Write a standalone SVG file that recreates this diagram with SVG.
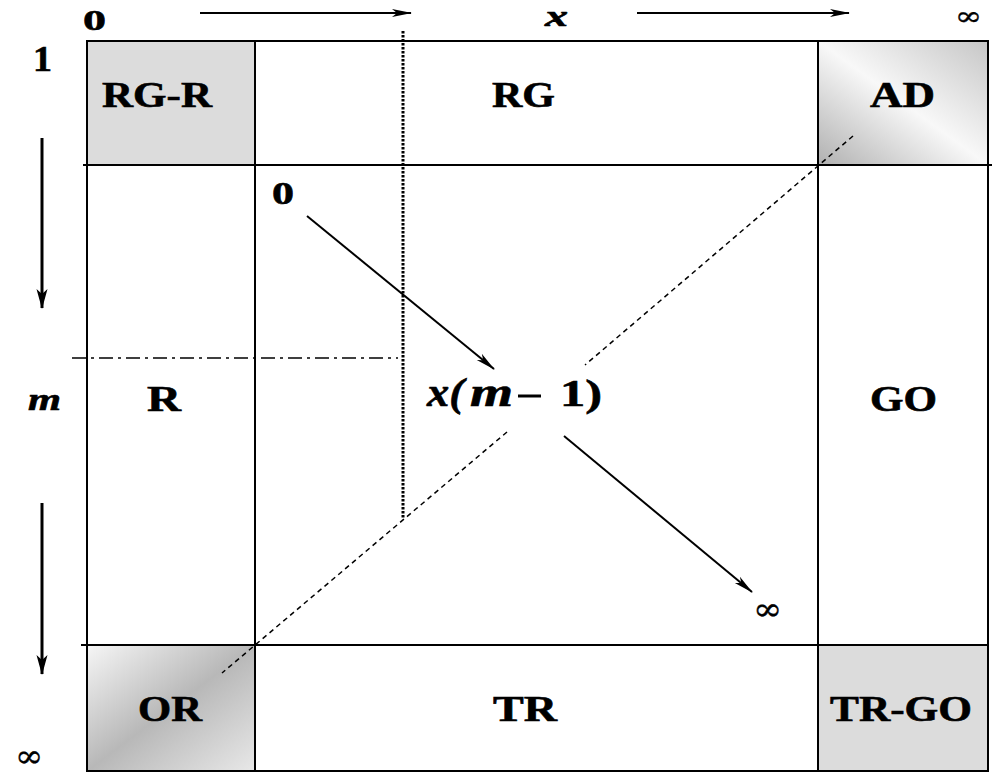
<svg xmlns="http://www.w3.org/2000/svg" width="1000" height="779" viewBox="0 0 1000 779">
<style>
.lbl{font-family:"Liberation Serif","Times New Roman",serif;font-weight:bold;font-size:35px;fill:#000;stroke:#000;stroke-width:0.6}
.bi{font-family:"Liberation Serif","Times New Roman",serif;font-weight:bold;font-style:italic;fill:#000;stroke:#000;stroke-width:0.6}
.inf{font-family:"DejaVu Serif","Liberation Serif",serif;font-size:32px;fill:#000;stroke:#000;stroke-width:0.4}
.grid{stroke:#000;stroke-width:2;fill:none}
.arr{stroke:#000;stroke-width:2;fill:none;marker-end:url(#ah)}
.arrv{stroke:#000;stroke-width:3;fill:none;marker-end:url(#ahv)}
</style>
<defs>
<marker id="ah" viewBox="0 0 20 10" refX="19" refY="5" markerWidth="20" markerHeight="10" markerUnits="userSpaceOnUse" orient="auto">
<path d="M0,1 L20,5 L0,9 L5,5 Z" fill="#000"/>
</marker>
<marker id="ahv" viewBox="0 0 20 12" refX="19" refY="6" markerWidth="20" markerHeight="12" markerUnits="userSpaceOnUse" orient="auto">
<path d="M0,0.5 L20,6 L0,11.5 L5,6 Z" fill="#000"/>
</marker>
<linearGradient id="gAD" x1="0" y1="1" x2="1" y2="0">
<stop offset="0" stop-color="#b0b0b0"/>
<stop offset="0.5" stop-color="#f8f8f8"/>
<stop offset="1" stop-color="#c6c6c6"/>
</linearGradient>
<linearGradient id="gOR" x1="0" y1="0" x2="1" y2="1">
<stop offset="0" stop-color="#f6f6f6"/>
<stop offset="0.5" stop-color="#b8b8b8"/>
<stop offset="1" stop-color="#e8e8e8"/>
</linearGradient>
</defs>
<rect width="1000" height="779" fill="#fff"/>

<g id="cell-RG-R"><rect x="87" y="41" width="168" height="124" fill="#dcdcdc"/><text class="lbl" x="102" y="107" textLength="110" lengthAdjust="spacingAndGlyphs">RG-R</text></g>
<g id="cell-RG"><text class="lbl" x="492" y="107" textLength="63" lengthAdjust="spacingAndGlyphs">RG</text></g>
<g id="cell-AD"><rect x="818" y="41" width="170" height="124" fill="url(#gAD)"/><text class="lbl" x="870" y="107" textLength="65" lengthAdjust="spacingAndGlyphs">AD</text></g>
<g id="cell-R"><text class="lbl" x="147" y="411" textLength="34" lengthAdjust="spacingAndGlyphs">R</text></g>
<g id="cell-GO"><text class="lbl" x="870" y="411" textLength="67" lengthAdjust="spacingAndGlyphs">GO</text></g>
<g id="cell-OR"><rect x="87" y="645" width="168" height="126" fill="url(#gOR)"/><text class="lbl" x="138" y="721" textLength="64" lengthAdjust="spacingAndGlyphs">OR</text></g>
<g id="cell-TR"><text class="lbl" x="493" y="721" textLength="64" lengthAdjust="spacingAndGlyphs">TR</text></g>
<g id="cell-TR-GO"><rect x="818" y="645" width="170" height="126" fill="#dcdcdc"/><text class="lbl" x="830" y="721" textLength="142" lengthAdjust="spacingAndGlyphs">TR-GO</text></g>

<g id="grid">
<rect class="grid" x="87" y="41" width="901" height="730"/>
<line class="grid" x1="255" y1="41" x2="255" y2="771"/>
<line class="grid" x1="818" y1="41" x2="818" y2="771" stroke-width="2.5"/>
<line class="grid" x1="83" y1="165" x2="992" y2="165"/>
<line class="grid" x1="81" y1="645" x2="988" y2="645"/>
</g>

<g id="axis-labels">
<text class="lbl" x="83" y="30" style="font-size:30px" textLength="23" lengthAdjust="spacingAndGlyphs">0</text>
<text class="bi" x="545" y="26" style="font-size:30px" textLength="23" lengthAdjust="spacingAndGlyphs">x</text>
<text class="inf" x="955" y="25" style="font-size:26px" textLength="27" lengthAdjust="spacingAndGlyphs">∞</text>
<text class="lbl" x="33" y="71" textLength="19" lengthAdjust="spacingAndGlyphs">1</text>
<text class="bi" x="28" y="410" style="font-size:32px" textLength="33" lengthAdjust="spacingAndGlyphs">m</text>
<text class="inf" x="15" y="767" textLength="28" lengthAdjust="spacingAndGlyphs">∞</text>
<text class="lbl" x="272" y="204" style="font-size:32px" textLength="22" lengthAdjust="spacingAndGlyphs">0</text>
<text class="inf" x="753" y="620" textLength="29" lengthAdjust="spacingAndGlyphs">∞</text>
</g>

<g id="center-label">
<text class="bi" x="427" y="406" style="font-size:40px" textLength="37" lengthAdjust="spacingAndGlyphs">x(</text>
<text class="bi" x="470" y="406" style="font-size:40px" textLength="43" lengthAdjust="spacingAndGlyphs">m</text>
<line x1="518" y1="396" x2="541" y2="396" stroke="#000" stroke-width="3"/>
<text class="lbl" x="560" y="406" style="font-size:38px" textLength="42" lengthAdjust="spacingAndGlyphs">1)</text>
</g>

<g id="connectors">
<line class="arr" x1="200" y1="13" x2="411" y2="13"/>
<line class="arr" x1="637" y1="13" x2="849" y2="13"/>
<line class="arrv" x1="42" y1="138" x2="42" y2="308"/>
<line class="arrv" x1="42" y1="503" x2="42" y2="674"/>
<line class="arr" x1="307" y1="216" x2="494" y2="369"/>
<line class="arr" x1="564" y1="436" x2="752" y2="592"/>
<line x1="403" y1="31" x2="403" y2="518" stroke="#000" stroke-width="3" stroke-dasharray="2.5 1.5"/>
<line x1="72" y1="358" x2="398" y2="358" stroke="#000" stroke-width="1.5" stroke-dasharray="14 5 3 5"/>
<line x1="853" y1="136" x2="585" y2="365" stroke="#000" stroke-width="1.5" stroke-dasharray="5 4"/>
<line x1="507" y1="432" x2="222" y2="673" stroke="#000" stroke-width="1.5" stroke-dasharray="5 4"/>
</g>
</svg>
